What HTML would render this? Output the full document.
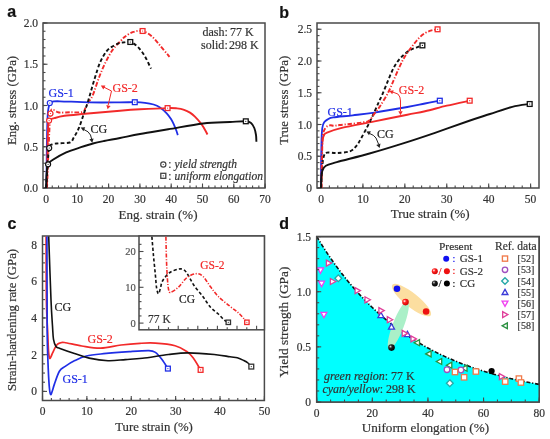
<!DOCTYPE html>
<html><head><meta charset="utf-8"><style>
html,body{margin:0;padding:0;background:#fff;}
svg{display:block;filter:blur(0.3px);}

</style></head><body>
<svg width="550" height="439" viewBox="0 0 550 439">
<rect x="43" y="23" width="222" height="165" fill="none" stroke="#4a4a4a" stroke-width="1.5"/>
<line x1="46.00" y1="188" x2="46.00" y2="185.5" stroke="#4a4a4a" stroke-width="1.1"/>
<line x1="52.26" y1="188" x2="52.26" y2="185.5" stroke="#4a4a4a" stroke-width="1.1"/>
<line x1="58.52" y1="188" x2="58.52" y2="185.5" stroke="#4a4a4a" stroke-width="1.1"/>
<line x1="64.78" y1="188" x2="64.78" y2="185.5" stroke="#4a4a4a" stroke-width="1.1"/>
<line x1="71.04" y1="188" x2="71.04" y2="185.5" stroke="#4a4a4a" stroke-width="1.1"/>
<line x1="77.30" y1="188" x2="77.30" y2="185.5" stroke="#4a4a4a" stroke-width="1.1"/>
<line x1="83.56" y1="188" x2="83.56" y2="185.5" stroke="#4a4a4a" stroke-width="1.1"/>
<line x1="89.82" y1="188" x2="89.82" y2="185.5" stroke="#4a4a4a" stroke-width="1.1"/>
<line x1="96.08" y1="188" x2="96.08" y2="185.5" stroke="#4a4a4a" stroke-width="1.1"/>
<line x1="102.34" y1="188" x2="102.34" y2="185.5" stroke="#4a4a4a" stroke-width="1.1"/>
<line x1="108.60" y1="188" x2="108.60" y2="185.5" stroke="#4a4a4a" stroke-width="1.1"/>
<line x1="114.86" y1="188" x2="114.86" y2="185.5" stroke="#4a4a4a" stroke-width="1.1"/>
<line x1="121.12" y1="188" x2="121.12" y2="185.5" stroke="#4a4a4a" stroke-width="1.1"/>
<line x1="127.38" y1="188" x2="127.38" y2="185.5" stroke="#4a4a4a" stroke-width="1.1"/>
<line x1="133.64" y1="188" x2="133.64" y2="185.5" stroke="#4a4a4a" stroke-width="1.1"/>
<line x1="139.90" y1="188" x2="139.90" y2="185.5" stroke="#4a4a4a" stroke-width="1.1"/>
<line x1="146.16" y1="188" x2="146.16" y2="185.5" stroke="#4a4a4a" stroke-width="1.1"/>
<line x1="152.42" y1="188" x2="152.42" y2="185.5" stroke="#4a4a4a" stroke-width="1.1"/>
<line x1="158.68" y1="188" x2="158.68" y2="185.5" stroke="#4a4a4a" stroke-width="1.1"/>
<line x1="164.94" y1="188" x2="164.94" y2="185.5" stroke="#4a4a4a" stroke-width="1.1"/>
<line x1="171.20" y1="188" x2="171.20" y2="185.5" stroke="#4a4a4a" stroke-width="1.1"/>
<line x1="177.46" y1="188" x2="177.46" y2="185.5" stroke="#4a4a4a" stroke-width="1.1"/>
<line x1="183.72" y1="188" x2="183.72" y2="185.5" stroke="#4a4a4a" stroke-width="1.1"/>
<line x1="189.98" y1="188" x2="189.98" y2="185.5" stroke="#4a4a4a" stroke-width="1.1"/>
<line x1="196.24" y1="188" x2="196.24" y2="185.5" stroke="#4a4a4a" stroke-width="1.1"/>
<line x1="202.50" y1="188" x2="202.50" y2="185.5" stroke="#4a4a4a" stroke-width="1.1"/>
<line x1="208.76" y1="188" x2="208.76" y2="185.5" stroke="#4a4a4a" stroke-width="1.1"/>
<line x1="215.02" y1="188" x2="215.02" y2="185.5" stroke="#4a4a4a" stroke-width="1.1"/>
<line x1="221.28" y1="188" x2="221.28" y2="185.5" stroke="#4a4a4a" stroke-width="1.1"/>
<line x1="227.54" y1="188" x2="227.54" y2="185.5" stroke="#4a4a4a" stroke-width="1.1"/>
<line x1="233.80" y1="188" x2="233.80" y2="185.5" stroke="#4a4a4a" stroke-width="1.1"/>
<line x1="240.06" y1="188" x2="240.06" y2="185.5" stroke="#4a4a4a" stroke-width="1.1"/>
<line x1="246.32" y1="188" x2="246.32" y2="185.5" stroke="#4a4a4a" stroke-width="1.1"/>
<line x1="252.58" y1="188" x2="252.58" y2="185.5" stroke="#4a4a4a" stroke-width="1.1"/>
<line x1="258.84" y1="188" x2="258.84" y2="185.5" stroke="#4a4a4a" stroke-width="1.1"/>
<line x1="265.10" y1="188" x2="265.10" y2="185.5" stroke="#4a4a4a" stroke-width="1.1"/>
<line x1="46.00" y1="188" x2="46.00" y2="183.5" stroke="#4a4a4a" stroke-width="1.1"/>
<line x1="77.30" y1="188" x2="77.30" y2="183.5" stroke="#4a4a4a" stroke-width="1.1"/>
<line x1="108.60" y1="188" x2="108.60" y2="183.5" stroke="#4a4a4a" stroke-width="1.1"/>
<line x1="139.90" y1="188" x2="139.90" y2="183.5" stroke="#4a4a4a" stroke-width="1.1"/>
<line x1="171.20" y1="188" x2="171.20" y2="183.5" stroke="#4a4a4a" stroke-width="1.1"/>
<line x1="202.50" y1="188" x2="202.50" y2="183.5" stroke="#4a4a4a" stroke-width="1.1"/>
<line x1="233.80" y1="188" x2="233.80" y2="183.5" stroke="#4a4a4a" stroke-width="1.1"/>
<line x1="265.10" y1="188" x2="265.10" y2="183.5" stroke="#4a4a4a" stroke-width="1.1"/>
<line x1="43" y1="188.00" x2="45.5" y2="188.00" stroke="#4a4a4a" stroke-width="1.1"/>
<line x1="43" y1="179.75" x2="45.5" y2="179.75" stroke="#4a4a4a" stroke-width="1.1"/>
<line x1="43" y1="171.50" x2="45.5" y2="171.50" stroke="#4a4a4a" stroke-width="1.1"/>
<line x1="43" y1="163.25" x2="45.5" y2="163.25" stroke="#4a4a4a" stroke-width="1.1"/>
<line x1="43" y1="155.00" x2="45.5" y2="155.00" stroke="#4a4a4a" stroke-width="1.1"/>
<line x1="43" y1="146.75" x2="45.5" y2="146.75" stroke="#4a4a4a" stroke-width="1.1"/>
<line x1="43" y1="138.50" x2="45.5" y2="138.50" stroke="#4a4a4a" stroke-width="1.1"/>
<line x1="43" y1="130.25" x2="45.5" y2="130.25" stroke="#4a4a4a" stroke-width="1.1"/>
<line x1="43" y1="122.00" x2="45.5" y2="122.00" stroke="#4a4a4a" stroke-width="1.1"/>
<line x1="43" y1="113.75" x2="45.5" y2="113.75" stroke="#4a4a4a" stroke-width="1.1"/>
<line x1="43" y1="105.50" x2="45.5" y2="105.50" stroke="#4a4a4a" stroke-width="1.1"/>
<line x1="43" y1="97.25" x2="45.5" y2="97.25" stroke="#4a4a4a" stroke-width="1.1"/>
<line x1="43" y1="89.00" x2="45.5" y2="89.00" stroke="#4a4a4a" stroke-width="1.1"/>
<line x1="43" y1="80.75" x2="45.5" y2="80.75" stroke="#4a4a4a" stroke-width="1.1"/>
<line x1="43" y1="72.50" x2="45.5" y2="72.50" stroke="#4a4a4a" stroke-width="1.1"/>
<line x1="43" y1="64.25" x2="45.5" y2="64.25" stroke="#4a4a4a" stroke-width="1.1"/>
<line x1="43" y1="56.00" x2="45.5" y2="56.00" stroke="#4a4a4a" stroke-width="1.1"/>
<line x1="43" y1="47.75" x2="45.5" y2="47.75" stroke="#4a4a4a" stroke-width="1.1"/>
<line x1="43" y1="39.50" x2="45.5" y2="39.50" stroke="#4a4a4a" stroke-width="1.1"/>
<line x1="43" y1="31.25" x2="45.5" y2="31.25" stroke="#4a4a4a" stroke-width="1.1"/>
<line x1="43" y1="23.00" x2="45.5" y2="23.00" stroke="#4a4a4a" stroke-width="1.1"/>
<line x1="43" y1="188.00" x2="47.5" y2="188.00" stroke="#4a4a4a" stroke-width="1.1"/>
<line x1="43" y1="146.75" x2="47.5" y2="146.75" stroke="#4a4a4a" stroke-width="1.1"/>
<line x1="43" y1="105.50" x2="47.5" y2="105.50" stroke="#4a4a4a" stroke-width="1.1"/>
<line x1="43" y1="64.25" x2="47.5" y2="64.25" stroke="#4a4a4a" stroke-width="1.1"/>
<line x1="43" y1="23.00" x2="47.5" y2="23.00" stroke="#4a4a4a" stroke-width="1.1"/>
<text x="46.00" y="203.00" font-size="11.5" text-anchor="middle" fill="#333" stroke="#333" stroke-width="0.2" font-family='"Liberation Serif", serif' >0</text>
<text x="77.30" y="203.00" font-size="11.5" text-anchor="middle" fill="#333" stroke="#333" stroke-width="0.2" font-family='"Liberation Serif", serif' >10</text>
<text x="108.60" y="203.00" font-size="11.5" text-anchor="middle" fill="#333" stroke="#333" stroke-width="0.2" font-family='"Liberation Serif", serif' >20</text>
<text x="139.90" y="203.00" font-size="11.5" text-anchor="middle" fill="#333" stroke="#333" stroke-width="0.2" font-family='"Liberation Serif", serif' >30</text>
<text x="171.20" y="203.00" font-size="11.5" text-anchor="middle" fill="#333" stroke="#333" stroke-width="0.2" font-family='"Liberation Serif", serif' >40</text>
<text x="202.50" y="203.00" font-size="11.5" text-anchor="middle" fill="#333" stroke="#333" stroke-width="0.2" font-family='"Liberation Serif", serif' >50</text>
<text x="233.80" y="203.00" font-size="11.5" text-anchor="middle" fill="#333" stroke="#333" stroke-width="0.2" font-family='"Liberation Serif", serif' >60</text>
<text x="265.10" y="203.00" font-size="11.5" text-anchor="middle" fill="#333" stroke="#333" stroke-width="0.2" font-family='"Liberation Serif", serif' >70</text>
<text x="38.00" y="192.00" font-size="11.5" text-anchor="end" fill="#333" stroke="#333" stroke-width="0.2" font-family='"Liberation Serif", serif' >0.0</text>
<text x="38.00" y="150.75" font-size="11.5" text-anchor="end" fill="#333" stroke="#333" stroke-width="0.2" font-family='"Liberation Serif", serif' >0.5</text>
<text x="38.00" y="109.50" font-size="11.5" text-anchor="end" fill="#333" stroke="#333" stroke-width="0.2" font-family='"Liberation Serif", serif' >1.0</text>
<text x="38.00" y="68.25" font-size="11.5" text-anchor="end" fill="#333" stroke="#333" stroke-width="0.2" font-family='"Liberation Serif", serif' >1.5</text>
<text x="38.00" y="27.00" font-size="11.5" text-anchor="end" fill="#333" stroke="#333" stroke-width="0.2" font-family='"Liberation Serif", serif' >2.0</text>
<text x="158.00" y="218.60" font-size="13" text-anchor="middle" fill="#333" stroke="#333" stroke-width="0.2" font-family='"Liberation Serif", serif' >Eng. strain (%)</text>
<text transform="translate(16,100.5) rotate(-90)" font-size="12.8" text-anchor="middle" fill="#333" stroke="#333" stroke-width="0.2" font-family='"Liberation Serif", serif'>Eng. stress (GPa)</text>
<text x="7.20" y="16.60" font-size="16" text-anchor="start" fill="#111" stroke="#111" stroke-width="0.2" font-family='"Liberation Sans", sans-serif' font-weight="bold">a</text>
<path d="M47.00,188.00 C47.25,181.67 47.92,162.42 48.50,150.00 C49.08,137.58 49.67,120.13 50.50,113.50 C51.33,106.87 52.42,110.48 53.50,110.20 C54.58,109.92 55.83,111.40 57.00,111.80 C58.17,112.20 58.33,112.52 60.50,112.60 C62.67,112.68 66.32,112.40 70.00,112.30 C73.68,112.20 80.05,112.67 82.60,112.00 C85.15,111.33 84.30,109.97 85.30,108.30 C86.30,106.63 87.35,104.18 88.60,102.00 C89.85,99.82 91.03,99.37 92.80,95.20 C94.57,91.03 97.08,82.47 99.20,77.00 C101.32,71.53 103.23,66.97 105.50,62.40 C107.77,57.83 110.20,53.25 112.80,49.60 C115.40,45.95 118.97,42.73 121.10,40.50 C123.23,38.27 123.55,37.63 125.60,36.20 C127.65,34.77 130.57,32.77 133.40,31.90 C136.23,31.03 139.52,30.25 142.60,31.00 C145.68,31.75 148.98,33.97 151.90,36.40 C154.82,38.83 157.17,42.20 160.10,45.60 C163.03,49.00 167.93,54.93 169.50,56.80" fill="none" stroke="#f22a2a" stroke-width="1.9" stroke-linejoin="round" stroke-dasharray="4.5 1.8 1.2 1.8"/>
<path d="M46.50,188.00 C46.55,181.67 46.60,162.17 46.80,150.00 C47.00,137.83 47.20,122.75 47.70,115.00 C48.20,107.25 48.92,105.73 49.80,103.50 C50.68,101.27 51.30,101.97 53.00,101.60 C54.70,101.23 53.83,101.17 60.00,101.30 C66.17,101.43 80.00,102.22 90.00,102.40 C100.00,102.58 112.50,102.43 120.00,102.40 C127.50,102.37 130.83,102.13 135.00,102.20 C139.17,102.27 141.90,102.42 145.00,102.80 C148.10,103.18 151.10,103.72 153.60,104.50 C156.10,105.28 157.82,106.03 160.00,107.50 C162.18,108.97 164.87,111.38 166.70,113.30 C168.53,115.22 169.78,117.07 171.00,119.00 C172.22,120.93 173.08,122.90 174.00,124.90 C174.92,126.90 175.87,129.30 176.50,131.00 C177.13,132.70 177.58,134.42 177.80,135.10" fill="none" stroke="#1f2ee6" stroke-width="1.8" stroke-linejoin="round"/>
<path d="M46.90,188.00 C46.98,183.33 47.22,169.67 47.40,160.00 C47.58,150.33 47.72,136.57 48.00,130.00 C48.28,123.43 48.05,122.57 49.10,120.60 C50.15,118.63 51.73,119.00 54.30,118.20 C56.87,117.40 59.38,116.53 64.50,115.80 C69.62,115.07 75.75,114.65 85.00,113.80 C94.25,112.95 110.83,111.45 120.00,110.70 C129.17,109.95 132.07,109.73 140.00,109.30 C147.93,108.87 161.43,108.25 167.60,108.10 C173.77,107.95 174.25,108.12 177.00,108.40 C179.75,108.68 181.93,109.10 184.10,109.80 C186.27,110.50 188.20,111.47 190.00,112.60 C191.80,113.73 193.05,114.77 194.90,116.60 C196.75,118.43 199.50,121.53 201.10,123.60 C202.70,125.67 203.43,127.18 204.50,129.00 C205.57,130.82 207.00,133.58 207.50,134.50" fill="none" stroke="#f22a2a" stroke-width="1.9" stroke-linejoin="round"/>
<path d="M46.30,188.00 C46.50,184.17 47.02,171.67 47.50,165.00 C47.98,158.33 48.43,151.45 49.20,148.00 C49.97,144.55 50.50,145.08 52.10,144.30 C53.70,143.52 55.83,143.60 58.80,143.30 C61.77,143.00 67.40,143.45 69.90,142.50 C72.40,141.55 72.32,139.98 73.80,137.60 C75.28,135.22 77.13,132.17 78.80,128.20 C80.47,124.23 82.23,118.38 83.80,113.80 C85.37,109.22 86.40,106.53 88.20,100.70 C90.00,94.87 92.62,85.18 94.60,78.80 C96.58,72.42 98.12,66.97 100.10,62.40 C102.08,57.83 104.38,54.08 106.50,51.40 C108.62,48.72 110.68,47.67 112.80,46.30 C114.92,44.93 117.33,43.85 119.20,43.20 C121.07,42.55 122.15,42.60 124.00,42.40 C125.85,42.20 128.05,41.30 130.30,42.00 C132.55,42.70 135.10,44.28 137.50,46.60 C139.90,48.92 142.45,52.22 144.70,55.90 C146.95,59.58 149.95,66.57 151.00,68.70" fill="none" stroke="#111" stroke-width="1.9" stroke-linejoin="round" stroke-dasharray="3.6 2.4"/>
<path d="M46.20,188.00 C46.25,185.83 46.18,178.95 46.50,175.00 C46.82,171.05 47.03,166.83 48.10,164.30 C49.17,161.77 49.88,161.78 52.90,159.80 C55.92,157.82 61.52,154.50 66.20,152.40 C70.88,150.30 76.55,148.68 81.00,147.20 C85.45,145.72 89.07,144.53 92.90,143.50 C96.73,142.47 99.48,141.92 104.00,141.00 C108.52,140.08 114.00,139.17 120.00,138.00 C126.00,136.83 131.97,135.45 140.00,134.00 C148.03,132.55 157.68,131.05 168.20,129.30 C178.72,127.55 192.80,124.72 203.10,123.50 C213.40,122.28 222.88,122.37 230.00,122.00 C237.12,121.63 242.30,121.13 245.80,121.30 C249.30,121.47 249.58,121.88 251.00,123.00 C252.42,124.12 253.47,126.00 254.30,128.00 C255.13,130.00 255.65,132.70 256.00,135.00 C256.35,137.30 256.33,140.67 256.40,141.80" fill="none" stroke="#111" stroke-width="1.9" stroke-linejoin="round"/>
<circle cx="48.10" cy="164.30" r="2.5" fill="#fff" stroke="#111" stroke-width="1.2"/>
<circle cx="48.10" cy="164.30" r="0.6" fill="#111"/>
<circle cx="49.20" cy="148.00" r="2.5" fill="#fff" stroke="#111" stroke-width="1.2"/>
<circle cx="49.20" cy="148.00" r="0.6" fill="#111"/>
<circle cx="49.80" cy="103.00" r="2.5" fill="#fff" stroke="#1f2ee6" stroke-width="1.2"/>
<circle cx="49.80" cy="103.00" r="0.6" fill="#1f2ee6"/>
<circle cx="50.50" cy="113.50" r="2.5" fill="#fff" stroke="#f22a2a" stroke-width="1.2"/>
<circle cx="50.50" cy="113.50" r="0.6" fill="#f22a2a"/>
<circle cx="49.10" cy="120.60" r="2.5" fill="#fff" stroke="#f22a2a" stroke-width="1.2"/>
<circle cx="49.10" cy="120.60" r="0.6" fill="#f22a2a"/>
<rect x="243.40" y="118.90" width="4.8" height="4.8" fill="#fff" stroke="#111" stroke-width="1.3"/>
<circle cx="245.80" cy="121.30" r="0.6" fill="#111"/>
<rect x="127.90" y="39.60" width="4.8" height="4.8" fill="#fff" stroke="#111" stroke-width="1.3"/>
<circle cx="130.30" cy="42.00" r="0.6" fill="#111"/>
<rect x="132.40" y="99.80" width="4.8" height="4.8" fill="#fff" stroke="#1f2ee6" stroke-width="1.3"/>
<circle cx="134.80" cy="102.20" r="0.6" fill="#1f2ee6"/>
<rect x="165.20" y="105.70" width="4.8" height="4.8" fill="#fff" stroke="#f22a2a" stroke-width="1.3"/>
<circle cx="167.60" cy="108.10" r="0.6" fill="#f22a2a"/>
<rect x="140.20" y="28.60" width="4.8" height="4.8" fill="#fff" stroke="#f22a2a" stroke-width="1.3"/>
<circle cx="142.60" cy="31.00" r="0.6" fill="#f22a2a"/>
<text x="48.50" y="96.80" font-size="12" text-anchor="start" fill="#1f2ee6" stroke="#1f2ee6" stroke-width="0.2" font-family='"Liberation Serif", serif' >GS-1</text>
<text x="112.50" y="91.50" font-size="12" text-anchor="start" fill="#f22a2a" stroke="#f22a2a" stroke-width="0.2" font-family='"Liberation Serif", serif' >GS-2</text>
<text x="90.50" y="132.60" font-size="12" text-anchor="start" fill="#222" stroke="#222" stroke-width="0.2" font-family='"Liberation Serif", serif' >CG</text>
<path d="M111.5,91 L104,87.2" stroke="#f22a2a" stroke-width="1" fill="none"/>
<path d="M100.80,85.60 L105.36,85.46 L103.37,89.38 Z" fill="#f22a2a"/>
<path d="M111.5,91 L108.2,105" stroke="#f22a2a" stroke-width="1" fill="none"/>
<path d="M107.60,109.30 L106.36,104.91 L110.64,105.90 Z" fill="#f22a2a"/>
<path d="M83.5,129.3 Q89,131.5 90.5,135 L91.6,139" stroke="#222" stroke-width="1" fill="none"/>
<path d="M80.70,127.60 L85.25,127.30 L83.40,131.28 Z" fill="#222"/>
<path d="M92.30,142.80 L89.32,139.34 L93.62,138.43 Z" fill="#222"/>
<text x="202.50" y="35.60" font-size="12" text-anchor="start" fill="#333" stroke="#333" stroke-width="0.2" font-family='"Liberation Serif", serif' >dash</text>
<text x="224.50" y="35.60" font-size="12" text-anchor="start" fill="#333" stroke="#333" stroke-width="0.2" font-family='"Liberation Serif", serif' >:</text>
<text x="230.00" y="35.60" font-size="12" text-anchor="start" fill="#333" stroke="#333" stroke-width="0.2" font-family='"Liberation Serif", serif' >77 K</text>
<text x="201.00" y="48.80" font-size="12" text-anchor="start" fill="#333" stroke="#333" stroke-width="0.2" font-family='"Liberation Serif", serif' >solid</text>
<text x="224.50" y="48.80" font-size="12" text-anchor="start" fill="#333" stroke="#333" stroke-width="0.2" font-family='"Liberation Serif", serif' >:</text>
<text x="229.00" y="48.80" font-size="12" text-anchor="start" fill="#333" stroke="#333" stroke-width="0.2" font-family='"Liberation Serif", serif' >298 K</text>
<circle cx="163.30" cy="164.50" r="2.6" fill="#fff" stroke="#444" stroke-width="1.2"/>
<circle cx="163.30" cy="164.50" r="0.6" fill="#444"/>
<text x="168.30" y="168.30" font-size="11.5" text-anchor="start" fill="#333" stroke="#333" stroke-width="0.2" font-family='"Liberation Serif", serif' >:</text>
<text x="174.50" y="168.20" font-size="11.5" text-anchor="start" fill="#333" stroke="#333" stroke-width="0.2" font-family='"Liberation Serif", serif' font-style="italic">yield strength</text>
<rect x="160.80" y="173.30" width="5.0" height="5.0" fill="#fff" stroke="#444" stroke-width="1.3"/>
<circle cx="163.30" cy="175.80" r="0.6" fill="#444"/>
<text x="168.30" y="179.80" font-size="11.5" text-anchor="start" fill="#333" stroke="#333" stroke-width="0.2" font-family='"Liberation Serif", serif' >:</text>
<text x="174.50" y="179.70" font-size="11.5" text-anchor="start" fill="#333" stroke="#333" stroke-width="0.2" font-family='"Liberation Serif", serif' font-style="italic">uniform elongation</text>
<rect x="317" y="23" width="222" height="165" fill="none" stroke="#4a4a4a" stroke-width="1.5"/>
<line x1="321.00" y1="188" x2="321.00" y2="185.5" stroke="#4a4a4a" stroke-width="1.1"/>
<line x1="329.38" y1="188" x2="329.38" y2="185.5" stroke="#4a4a4a" stroke-width="1.1"/>
<line x1="337.77" y1="188" x2="337.77" y2="185.5" stroke="#4a4a4a" stroke-width="1.1"/>
<line x1="346.15" y1="188" x2="346.15" y2="185.5" stroke="#4a4a4a" stroke-width="1.1"/>
<line x1="354.54" y1="188" x2="354.54" y2="185.5" stroke="#4a4a4a" stroke-width="1.1"/>
<line x1="362.92" y1="188" x2="362.92" y2="185.5" stroke="#4a4a4a" stroke-width="1.1"/>
<line x1="371.30" y1="188" x2="371.30" y2="185.5" stroke="#4a4a4a" stroke-width="1.1"/>
<line x1="379.69" y1="188" x2="379.69" y2="185.5" stroke="#4a4a4a" stroke-width="1.1"/>
<line x1="388.07" y1="188" x2="388.07" y2="185.5" stroke="#4a4a4a" stroke-width="1.1"/>
<line x1="396.46" y1="188" x2="396.46" y2="185.5" stroke="#4a4a4a" stroke-width="1.1"/>
<line x1="404.84" y1="188" x2="404.84" y2="185.5" stroke="#4a4a4a" stroke-width="1.1"/>
<line x1="413.22" y1="188" x2="413.22" y2="185.5" stroke="#4a4a4a" stroke-width="1.1"/>
<line x1="421.61" y1="188" x2="421.61" y2="185.5" stroke="#4a4a4a" stroke-width="1.1"/>
<line x1="429.99" y1="188" x2="429.99" y2="185.5" stroke="#4a4a4a" stroke-width="1.1"/>
<line x1="438.38" y1="188" x2="438.38" y2="185.5" stroke="#4a4a4a" stroke-width="1.1"/>
<line x1="446.76" y1="188" x2="446.76" y2="185.5" stroke="#4a4a4a" stroke-width="1.1"/>
<line x1="455.14" y1="188" x2="455.14" y2="185.5" stroke="#4a4a4a" stroke-width="1.1"/>
<line x1="463.53" y1="188" x2="463.53" y2="185.5" stroke="#4a4a4a" stroke-width="1.1"/>
<line x1="471.91" y1="188" x2="471.91" y2="185.5" stroke="#4a4a4a" stroke-width="1.1"/>
<line x1="480.30" y1="188" x2="480.30" y2="185.5" stroke="#4a4a4a" stroke-width="1.1"/>
<line x1="488.68" y1="188" x2="488.68" y2="185.5" stroke="#4a4a4a" stroke-width="1.1"/>
<line x1="497.06" y1="188" x2="497.06" y2="185.5" stroke="#4a4a4a" stroke-width="1.1"/>
<line x1="505.45" y1="188" x2="505.45" y2="185.5" stroke="#4a4a4a" stroke-width="1.1"/>
<line x1="513.83" y1="188" x2="513.83" y2="185.5" stroke="#4a4a4a" stroke-width="1.1"/>
<line x1="522.22" y1="188" x2="522.22" y2="185.5" stroke="#4a4a4a" stroke-width="1.1"/>
<line x1="530.60" y1="188" x2="530.60" y2="185.5" stroke="#4a4a4a" stroke-width="1.1"/>
<line x1="321.00" y1="188" x2="321.00" y2="183.5" stroke="#4a4a4a" stroke-width="1.1"/>
<line x1="362.92" y1="188" x2="362.92" y2="183.5" stroke="#4a4a4a" stroke-width="1.1"/>
<line x1="404.84" y1="188" x2="404.84" y2="183.5" stroke="#4a4a4a" stroke-width="1.1"/>
<line x1="446.76" y1="188" x2="446.76" y2="183.5" stroke="#4a4a4a" stroke-width="1.1"/>
<line x1="488.68" y1="188" x2="488.68" y2="183.5" stroke="#4a4a4a" stroke-width="1.1"/>
<line x1="530.60" y1="188" x2="530.60" y2="183.5" stroke="#4a4a4a" stroke-width="1.1"/>
<line x1="317" y1="188.00" x2="319.5" y2="188.00" stroke="#4a4a4a" stroke-width="1.1"/>
<line x1="317" y1="181.65" x2="319.5" y2="181.65" stroke="#4a4a4a" stroke-width="1.1"/>
<line x1="317" y1="175.30" x2="319.5" y2="175.30" stroke="#4a4a4a" stroke-width="1.1"/>
<line x1="317" y1="168.95" x2="319.5" y2="168.95" stroke="#4a4a4a" stroke-width="1.1"/>
<line x1="317" y1="162.60" x2="319.5" y2="162.60" stroke="#4a4a4a" stroke-width="1.1"/>
<line x1="317" y1="156.25" x2="319.5" y2="156.25" stroke="#4a4a4a" stroke-width="1.1"/>
<line x1="317" y1="149.90" x2="319.5" y2="149.90" stroke="#4a4a4a" stroke-width="1.1"/>
<line x1="317" y1="143.55" x2="319.5" y2="143.55" stroke="#4a4a4a" stroke-width="1.1"/>
<line x1="317" y1="137.20" x2="319.5" y2="137.20" stroke="#4a4a4a" stroke-width="1.1"/>
<line x1="317" y1="130.85" x2="319.5" y2="130.85" stroke="#4a4a4a" stroke-width="1.1"/>
<line x1="317" y1="124.50" x2="319.5" y2="124.50" stroke="#4a4a4a" stroke-width="1.1"/>
<line x1="317" y1="118.15" x2="319.5" y2="118.15" stroke="#4a4a4a" stroke-width="1.1"/>
<line x1="317" y1="111.80" x2="319.5" y2="111.80" stroke="#4a4a4a" stroke-width="1.1"/>
<line x1="317" y1="105.45" x2="319.5" y2="105.45" stroke="#4a4a4a" stroke-width="1.1"/>
<line x1="317" y1="99.10" x2="319.5" y2="99.10" stroke="#4a4a4a" stroke-width="1.1"/>
<line x1="317" y1="92.75" x2="319.5" y2="92.75" stroke="#4a4a4a" stroke-width="1.1"/>
<line x1="317" y1="86.40" x2="319.5" y2="86.40" stroke="#4a4a4a" stroke-width="1.1"/>
<line x1="317" y1="80.05" x2="319.5" y2="80.05" stroke="#4a4a4a" stroke-width="1.1"/>
<line x1="317" y1="73.70" x2="319.5" y2="73.70" stroke="#4a4a4a" stroke-width="1.1"/>
<line x1="317" y1="67.35" x2="319.5" y2="67.35" stroke="#4a4a4a" stroke-width="1.1"/>
<line x1="317" y1="61.00" x2="319.5" y2="61.00" stroke="#4a4a4a" stroke-width="1.1"/>
<line x1="317" y1="54.65" x2="319.5" y2="54.65" stroke="#4a4a4a" stroke-width="1.1"/>
<line x1="317" y1="48.30" x2="319.5" y2="48.30" stroke="#4a4a4a" stroke-width="1.1"/>
<line x1="317" y1="41.95" x2="319.5" y2="41.95" stroke="#4a4a4a" stroke-width="1.1"/>
<line x1="317" y1="35.60" x2="319.5" y2="35.60" stroke="#4a4a4a" stroke-width="1.1"/>
<line x1="317" y1="29.25" x2="319.5" y2="29.25" stroke="#4a4a4a" stroke-width="1.1"/>
<line x1="317" y1="188.00" x2="321.5" y2="188.00" stroke="#4a4a4a" stroke-width="1.1"/>
<line x1="317" y1="156.25" x2="321.5" y2="156.25" stroke="#4a4a4a" stroke-width="1.1"/>
<line x1="317" y1="124.50" x2="321.5" y2="124.50" stroke="#4a4a4a" stroke-width="1.1"/>
<line x1="317" y1="92.75" x2="321.5" y2="92.75" stroke="#4a4a4a" stroke-width="1.1"/>
<line x1="317" y1="61.00" x2="321.5" y2="61.00" stroke="#4a4a4a" stroke-width="1.1"/>
<line x1="317" y1="29.25" x2="321.5" y2="29.25" stroke="#4a4a4a" stroke-width="1.1"/>
<text x="321.00" y="203.00" font-size="11.5" text-anchor="middle" fill="#333" stroke="#333" stroke-width="0.2" font-family='"Liberation Serif", serif' >0</text>
<text x="362.92" y="203.00" font-size="11.5" text-anchor="middle" fill="#333" stroke="#333" stroke-width="0.2" font-family='"Liberation Serif", serif' >10</text>
<text x="404.84" y="203.00" font-size="11.5" text-anchor="middle" fill="#333" stroke="#333" stroke-width="0.2" font-family='"Liberation Serif", serif' >20</text>
<text x="446.76" y="203.00" font-size="11.5" text-anchor="middle" fill="#333" stroke="#333" stroke-width="0.2" font-family='"Liberation Serif", serif' >30</text>
<text x="488.68" y="203.00" font-size="11.5" text-anchor="middle" fill="#333" stroke="#333" stroke-width="0.2" font-family='"Liberation Serif", serif' >40</text>
<text x="530.60" y="203.00" font-size="11.5" text-anchor="middle" fill="#333" stroke="#333" stroke-width="0.2" font-family='"Liberation Serif", serif' >50</text>
<text x="312.00" y="192.00" font-size="11.5" text-anchor="end" fill="#333" stroke="#333" stroke-width="0.2" font-family='"Liberation Serif", serif' >0</text>
<text x="312.00" y="160.25" font-size="11.5" text-anchor="end" fill="#333" stroke="#333" stroke-width="0.2" font-family='"Liberation Serif", serif' >0.5</text>
<text x="312.00" y="128.50" font-size="11.5" text-anchor="end" fill="#333" stroke="#333" stroke-width="0.2" font-family='"Liberation Serif", serif' >1.0</text>
<text x="312.00" y="96.75" font-size="11.5" text-anchor="end" fill="#333" stroke="#333" stroke-width="0.2" font-family='"Liberation Serif", serif' >1.5</text>
<text x="312.00" y="65.00" font-size="11.5" text-anchor="end" fill="#333" stroke="#333" stroke-width="0.2" font-family='"Liberation Serif", serif' >2.0</text>
<text x="312.00" y="33.25" font-size="11.5" text-anchor="end" fill="#333" stroke="#333" stroke-width="0.2" font-family='"Liberation Serif", serif' >2.5</text>
<text x="430.20" y="218.20" font-size="13" text-anchor="middle" fill="#333" stroke="#333" stroke-width="0.2" font-family='"Liberation Serif", serif' >True strain (%)</text>
<text transform="translate(287.5,100.3) rotate(-90)" font-size="12.8" text-anchor="middle" fill="#333" stroke="#333" stroke-width="0.2" font-family='"Liberation Serif", serif'>True stress (GPa)</text>
<text x="279.20" y="17.60" font-size="16" text-anchor="start" fill="#111" stroke="#111" stroke-width="0.2" font-family='"Liberation Sans", sans-serif' font-weight="bold">b</text>
<path d="M321.20,188.00 C321.25,183.33 321.28,167.83 321.50,160.00 C321.72,152.17 322.08,145.13 322.50,141.00 C322.92,136.87 323.25,136.60 324.00,135.20 C324.75,133.80 324.03,133.82 327.00,132.60 C329.97,131.38 333.88,129.77 341.80,127.90 C349.72,126.03 363.58,123.60 374.50,121.40 C385.42,119.20 398.88,116.40 407.30,114.70 C415.72,113.00 418.42,112.70 425.00,111.20 C431.58,109.70 439.35,107.45 446.80,105.70 C454.25,103.95 465.88,101.53 469.70,100.70" fill="none" stroke="#f22a2a" stroke-width="1.9" stroke-linejoin="round"/>
<path d="M321.00,188.00 C321.07,180.83 321.18,155.00 321.40,145.00 C321.62,135.00 321.80,131.83 322.30,128.00 C322.80,124.17 323.45,123.47 324.40,122.00 C325.35,120.53 326.55,119.97 328.00,119.20 C329.45,118.43 328.98,118.05 333.10,117.40 C337.22,116.75 345.80,116.10 352.70,115.30 C359.60,114.50 365.40,113.98 374.50,112.60 C383.60,111.22 398.88,108.52 407.30,107.00 C415.72,105.48 419.58,104.55 425.00,103.50 C430.42,102.45 437.33,101.17 439.80,100.70" fill="none" stroke="#1f2ee6" stroke-width="1.8" stroke-linejoin="round"/>
<path d="M321.30,188.00 C321.42,185.00 321.60,175.22 322.00,170.00 C322.40,164.78 322.87,159.60 323.70,156.70 C324.53,153.80 324.82,153.22 327.00,152.60 C329.18,151.98 332.98,153.22 336.80,153.00 C340.62,152.78 346.62,152.50 349.90,151.30 C353.18,150.10 354.65,147.93 356.50,145.80 C358.35,143.67 359.27,141.55 361.00,138.50 C362.73,135.45 365.02,131.15 366.90,127.50 C368.78,123.85 370.32,120.85 372.30,116.60 C374.28,112.35 377.07,105.82 378.80,102.00 C380.53,98.18 381.13,97.35 382.70,93.70 C384.27,90.05 386.37,84.42 388.20,80.10 C390.03,75.78 391.88,71.22 393.70,67.80 C395.52,64.38 397.28,61.88 399.10,59.60 C400.92,57.32 402.55,55.82 404.60,54.10 C406.65,52.38 409.35,50.43 411.40,49.30 C413.45,48.17 415.10,47.97 416.90,47.30 C418.70,46.63 421.32,45.63 422.20,45.30" fill="none" stroke="#111" stroke-width="1.9" stroke-linejoin="round" stroke-dasharray="3.6 2.4"/>
<path d="M321.50,188.00 C321.58,183.33 321.78,168.67 322.00,160.00 C322.22,151.33 322.22,141.33 322.80,136.00 C323.38,130.67 324.33,129.78 325.50,128.00 C326.67,126.22 328.38,125.67 329.80,125.30 C331.22,124.93 332.37,125.85 334.00,125.80 C335.63,125.75 336.93,125.30 339.60,125.00 C342.27,124.70 346.00,124.45 350.00,124.00 C354.00,123.55 360.33,122.93 363.60,122.30 C366.87,121.67 367.70,121.77 369.60,120.20 C371.50,118.63 373.18,115.35 375.00,112.90 C376.82,110.45 378.30,108.90 380.50,105.50 C382.70,102.10 386.00,96.73 388.20,92.50 C390.40,88.27 391.88,84.22 393.70,80.10 C395.52,75.98 397.28,71.67 399.10,67.80 C400.92,63.93 402.55,60.32 404.60,56.90 C406.65,53.48 409.08,50.37 411.40,47.30 C413.72,44.23 416.22,40.87 418.50,38.50 C420.78,36.13 422.92,34.45 425.10,33.10 C427.28,31.75 429.52,31.03 431.60,30.40 C433.68,29.77 436.60,29.48 437.60,29.30" fill="none" stroke="#f22a2a" stroke-width="1.9" stroke-linejoin="round" stroke-dasharray="4.5 1.8 1.2 1.8"/>
<path d="M321.00,188.00 C321.05,186.33 321.08,180.83 321.30,178.00 C321.52,175.17 321.53,173.03 322.30,171.00 C323.07,168.97 323.48,167.27 325.90,165.80 C328.32,164.33 329.53,164.25 336.80,162.20 C344.07,160.15 358.58,156.60 369.50,153.50 C380.42,150.40 391.38,147.05 402.30,143.60 C413.22,140.15 423.95,136.57 435.00,132.80 C446.05,129.03 459.43,124.13 468.60,121.00 C477.77,117.87 482.72,116.37 490.00,114.00 C497.28,111.63 505.68,108.47 512.30,106.80 C518.92,105.13 526.80,104.47 529.70,104.00" fill="none" stroke="#111" stroke-width="1.9" stroke-linejoin="round"/>
<rect x="437.40" y="98.30" width="4.8" height="4.8" fill="#fff" stroke="#1f2ee6" stroke-width="1.3"/>
<circle cx="439.80" cy="100.70" r="0.6" fill="#1f2ee6"/>
<rect x="467.30" y="98.30" width="4.8" height="4.8" fill="#fff" stroke="#f22a2a" stroke-width="1.3"/>
<circle cx="469.70" cy="100.70" r="0.6" fill="#f22a2a"/>
<rect x="527.30" y="101.60" width="4.8" height="4.8" fill="#fff" stroke="#111" stroke-width="1.3"/>
<circle cx="529.70" cy="104.00" r="0.6" fill="#111"/>
<rect x="420.00" y="43.00" width="4.8" height="4.8" fill="#fff" stroke="#111" stroke-width="1.3"/>
<circle cx="422.40" cy="45.40" r="0.6" fill="#111"/>
<rect x="435.20" y="26.90" width="4.8" height="4.8" fill="#fff" stroke="#f22a2a" stroke-width="1.3"/>
<circle cx="437.60" cy="29.30" r="0.6" fill="#f22a2a"/>
<text x="327.50" y="116.20" font-size="12" text-anchor="start" fill="#1f2ee6" stroke="#1f2ee6" stroke-width="0.2" font-family='"Liberation Serif", serif' >GS-1</text>
<text x="398.80" y="94.20" font-size="12" text-anchor="start" fill="#f22a2a" stroke="#f22a2a" stroke-width="0.2" font-family='"Liberation Serif", serif' >GS-2</text>
<text x="377.00" y="138.20" font-size="12" text-anchor="start" fill="#222" stroke="#222" stroke-width="0.2" font-family='"Liberation Serif", serif' >CG</text>
<path d="M397.9,94 L392.5,92" stroke="#f22a2a" stroke-width="1" fill="none"/>
<path d="M389.20,90.90 L393.71,90.20 L392.21,94.34 Z" fill="#f22a2a"/>
<path d="M397.9,94 Q400.5,96.5 400.5,101 L400.5,111" stroke="#f22a2a" stroke-width="1" fill="none"/>
<path d="M400.50,115.20 L398.30,111.20 L402.70,111.20 Z" fill="#f22a2a"/>
<path d="M369.2,133.3 Q374,135 376,138 L378.5,144" stroke="#222" stroke-width="1" fill="none"/>
<path d="M366.30,131.60 L370.85,131.30 L369.00,135.28 Z" fill="#222"/>
<path d="M379.60,148.00 L376.27,144.88 L380.46,143.52 Z" fill="#222"/>
<rect x="42.5" y="236" width="221.89999999999998" height="164.5" fill="none" stroke="#4a4a4a" stroke-width="1.5"/>
<line x1="42.50" y1="400.5" x2="42.50" y2="398.0" stroke="#4a4a4a" stroke-width="1.1"/>
<line x1="51.38" y1="400.5" x2="51.38" y2="398.0" stroke="#4a4a4a" stroke-width="1.1"/>
<line x1="60.25" y1="400.5" x2="60.25" y2="398.0" stroke="#4a4a4a" stroke-width="1.1"/>
<line x1="69.13" y1="400.5" x2="69.13" y2="398.0" stroke="#4a4a4a" stroke-width="1.1"/>
<line x1="78.00" y1="400.5" x2="78.00" y2="398.0" stroke="#4a4a4a" stroke-width="1.1"/>
<line x1="86.88" y1="400.5" x2="86.88" y2="398.0" stroke="#4a4a4a" stroke-width="1.1"/>
<line x1="95.76" y1="400.5" x2="95.76" y2="398.0" stroke="#4a4a4a" stroke-width="1.1"/>
<line x1="104.63" y1="400.5" x2="104.63" y2="398.0" stroke="#4a4a4a" stroke-width="1.1"/>
<line x1="113.51" y1="400.5" x2="113.51" y2="398.0" stroke="#4a4a4a" stroke-width="1.1"/>
<line x1="122.38" y1="400.5" x2="122.38" y2="398.0" stroke="#4a4a4a" stroke-width="1.1"/>
<line x1="131.26" y1="400.5" x2="131.26" y2="398.0" stroke="#4a4a4a" stroke-width="1.1"/>
<line x1="140.14" y1="400.5" x2="140.14" y2="398.0" stroke="#4a4a4a" stroke-width="1.1"/>
<line x1="149.01" y1="400.5" x2="149.01" y2="398.0" stroke="#4a4a4a" stroke-width="1.1"/>
<line x1="157.89" y1="400.5" x2="157.89" y2="398.0" stroke="#4a4a4a" stroke-width="1.1"/>
<line x1="166.76" y1="400.5" x2="166.76" y2="398.0" stroke="#4a4a4a" stroke-width="1.1"/>
<line x1="175.64" y1="400.5" x2="175.64" y2="398.0" stroke="#4a4a4a" stroke-width="1.1"/>
<line x1="184.52" y1="400.5" x2="184.52" y2="398.0" stroke="#4a4a4a" stroke-width="1.1"/>
<line x1="193.39" y1="400.5" x2="193.39" y2="398.0" stroke="#4a4a4a" stroke-width="1.1"/>
<line x1="202.27" y1="400.5" x2="202.27" y2="398.0" stroke="#4a4a4a" stroke-width="1.1"/>
<line x1="211.14" y1="400.5" x2="211.14" y2="398.0" stroke="#4a4a4a" stroke-width="1.1"/>
<line x1="220.02" y1="400.5" x2="220.02" y2="398.0" stroke="#4a4a4a" stroke-width="1.1"/>
<line x1="228.90" y1="400.5" x2="228.90" y2="398.0" stroke="#4a4a4a" stroke-width="1.1"/>
<line x1="237.77" y1="400.5" x2="237.77" y2="398.0" stroke="#4a4a4a" stroke-width="1.1"/>
<line x1="246.65" y1="400.5" x2="246.65" y2="398.0" stroke="#4a4a4a" stroke-width="1.1"/>
<line x1="255.52" y1="400.5" x2="255.52" y2="398.0" stroke="#4a4a4a" stroke-width="1.1"/>
<line x1="264.40" y1="400.5" x2="264.40" y2="398.0" stroke="#4a4a4a" stroke-width="1.1"/>
<line x1="42.50" y1="400.5" x2="42.50" y2="396.0" stroke="#4a4a4a" stroke-width="1.1"/>
<line x1="86.88" y1="400.5" x2="86.88" y2="396.0" stroke="#4a4a4a" stroke-width="1.1"/>
<line x1="131.26" y1="400.5" x2="131.26" y2="396.0" stroke="#4a4a4a" stroke-width="1.1"/>
<line x1="175.64" y1="400.5" x2="175.64" y2="396.0" stroke="#4a4a4a" stroke-width="1.1"/>
<line x1="220.02" y1="400.5" x2="220.02" y2="396.0" stroke="#4a4a4a" stroke-width="1.1"/>
<line x1="264.40" y1="400.5" x2="264.40" y2="396.0" stroke="#4a4a4a" stroke-width="1.1"/>
<line x1="42.5" y1="391.40" x2="45.0" y2="391.40" stroke="#4a4a4a" stroke-width="1.1"/>
<line x1="42.5" y1="382.22" x2="45.0" y2="382.22" stroke="#4a4a4a" stroke-width="1.1"/>
<line x1="42.5" y1="373.04" x2="45.0" y2="373.04" stroke="#4a4a4a" stroke-width="1.1"/>
<line x1="42.5" y1="363.86" x2="45.0" y2="363.86" stroke="#4a4a4a" stroke-width="1.1"/>
<line x1="42.5" y1="354.68" x2="45.0" y2="354.68" stroke="#4a4a4a" stroke-width="1.1"/>
<line x1="42.5" y1="345.50" x2="45.0" y2="345.50" stroke="#4a4a4a" stroke-width="1.1"/>
<line x1="42.5" y1="336.32" x2="45.0" y2="336.32" stroke="#4a4a4a" stroke-width="1.1"/>
<line x1="42.5" y1="327.14" x2="45.0" y2="327.14" stroke="#4a4a4a" stroke-width="1.1"/>
<line x1="42.5" y1="317.96" x2="45.0" y2="317.96" stroke="#4a4a4a" stroke-width="1.1"/>
<line x1="42.5" y1="308.78" x2="45.0" y2="308.78" stroke="#4a4a4a" stroke-width="1.1"/>
<line x1="42.5" y1="299.60" x2="45.0" y2="299.60" stroke="#4a4a4a" stroke-width="1.1"/>
<line x1="42.5" y1="290.42" x2="45.0" y2="290.42" stroke="#4a4a4a" stroke-width="1.1"/>
<line x1="42.5" y1="281.24" x2="45.0" y2="281.24" stroke="#4a4a4a" stroke-width="1.1"/>
<line x1="42.5" y1="272.06" x2="45.0" y2="272.06" stroke="#4a4a4a" stroke-width="1.1"/>
<line x1="42.5" y1="262.88" x2="45.0" y2="262.88" stroke="#4a4a4a" stroke-width="1.1"/>
<line x1="42.5" y1="253.70" x2="45.0" y2="253.70" stroke="#4a4a4a" stroke-width="1.1"/>
<line x1="42.5" y1="244.52" x2="45.0" y2="244.52" stroke="#4a4a4a" stroke-width="1.1"/>
<line x1="42.5" y1="391.40" x2="47.0" y2="391.40" stroke="#4a4a4a" stroke-width="1.1"/>
<line x1="42.5" y1="354.68" x2="47.0" y2="354.68" stroke="#4a4a4a" stroke-width="1.1"/>
<line x1="42.5" y1="317.96" x2="47.0" y2="317.96" stroke="#4a4a4a" stroke-width="1.1"/>
<line x1="42.5" y1="281.24" x2="47.0" y2="281.24" stroke="#4a4a4a" stroke-width="1.1"/>
<line x1="42.5" y1="244.52" x2="47.0" y2="244.52" stroke="#4a4a4a" stroke-width="1.1"/>
<text x="42.50" y="415.00" font-size="11.5" text-anchor="middle" fill="#333" stroke="#333" stroke-width="0.2" font-family='"Liberation Serif", serif' >0</text>
<text x="86.88" y="415.00" font-size="11.5" text-anchor="middle" fill="#333" stroke="#333" stroke-width="0.2" font-family='"Liberation Serif", serif' >10</text>
<text x="131.26" y="415.00" font-size="11.5" text-anchor="middle" fill="#333" stroke="#333" stroke-width="0.2" font-family='"Liberation Serif", serif' >20</text>
<text x="175.64" y="415.00" font-size="11.5" text-anchor="middle" fill="#333" stroke="#333" stroke-width="0.2" font-family='"Liberation Serif", serif' >30</text>
<text x="220.02" y="415.00" font-size="11.5" text-anchor="middle" fill="#333" stroke="#333" stroke-width="0.2" font-family='"Liberation Serif", serif' >40</text>
<text x="264.40" y="415.00" font-size="11.5" text-anchor="middle" fill="#333" stroke="#333" stroke-width="0.2" font-family='"Liberation Serif", serif' >50</text>
<text x="37.00" y="395.40" font-size="11.5" text-anchor="end" fill="#333" stroke="#333" stroke-width="0.2" font-family='"Liberation Serif", serif' >0</text>
<text x="37.00" y="358.68" font-size="11.5" text-anchor="end" fill="#333" stroke="#333" stroke-width="0.2" font-family='"Liberation Serif", serif' >2</text>
<text x="37.00" y="321.96" font-size="11.5" text-anchor="end" fill="#333" stroke="#333" stroke-width="0.2" font-family='"Liberation Serif", serif' >4</text>
<text x="37.00" y="285.24" font-size="11.5" text-anchor="end" fill="#333" stroke="#333" stroke-width="0.2" font-family='"Liberation Serif", serif' >6</text>
<text x="37.00" y="248.52" font-size="11.5" text-anchor="end" fill="#333" stroke="#333" stroke-width="0.2" font-family='"Liberation Serif", serif' >8</text>
<text x="154.00" y="431.00" font-size="12.8" text-anchor="middle" fill="#333" stroke="#333" stroke-width="0.2" font-family='"Liberation Serif", serif' >Ture strain (%)</text>
<text transform="translate(15.5,320) rotate(-90)" font-size="12.8" text-anchor="middle" fill="#333" stroke="#333" stroke-width="0.2" font-family='"Liberation Serif", serif'>Strain-hardening rate (GPa)</text>
<text x="7.50" y="229.00" font-size="16" text-anchor="start" fill="#111" stroke="#111" stroke-width="0.2" font-family='"Liberation Sans", sans-serif' font-weight="bold">c</text>
<path d="M46.10,236.50 C46.15,247.08 46.12,283.58 46.40,300.00 C46.68,316.42 47.43,326.33 47.80,335.00 C48.17,343.67 48.28,348.12 48.60,352.00 C48.92,355.88 49.25,357.63 49.70,358.30 C50.15,358.97 50.82,356.90 51.30,356.00 C51.78,355.10 51.73,354.70 52.60,352.90 C53.47,351.10 55.27,346.85 56.50,345.20 C57.73,343.55 58.68,343.45 60.00,343.00 C61.32,342.55 60.77,342.00 64.40,342.50 C68.03,343.00 75.75,345.05 81.80,346.00 C87.85,346.95 94.15,348.37 100.70,348.20 C107.25,348.03 114.55,345.82 121.10,345.00 C127.65,344.18 134.28,343.62 140.00,343.30 C145.72,342.98 149.55,342.70 155.40,343.10 C161.25,343.50 169.92,344.33 175.10,345.70 C180.28,347.07 183.50,349.28 186.50,351.30 C189.50,353.32 190.75,354.70 193.10,357.80 C195.45,360.90 199.35,367.88 200.60,369.90" fill="none" stroke="#f22a2a" stroke-width="1.7" stroke-linejoin="round"/>
<path d="M46.90,236.50 C46.93,247.08 47.03,282.75 47.10,300.00 C47.17,317.25 47.10,328.33 47.30,340.00 C47.50,351.67 47.95,362.00 48.30,370.00 C48.65,378.00 49.02,383.92 49.40,388.00 C49.78,392.08 50.12,394.00 50.60,394.50 C51.08,395.00 51.65,392.77 52.30,391.00 C52.95,389.23 53.32,387.18 54.50,383.90 C55.68,380.62 57.62,374.22 59.40,371.30 C61.18,368.38 62.63,368.18 65.20,366.40 C67.77,364.62 71.27,362.33 74.80,360.60 C78.33,358.87 81.60,357.15 86.40,356.00 C91.20,354.85 96.45,354.43 103.60,353.70 C110.75,352.97 121.75,352.12 129.30,351.60 C136.85,351.08 144.55,350.47 148.90,350.60 C153.25,350.73 153.22,350.92 155.40,352.40 C157.58,353.88 159.92,356.80 162.00,359.50 C164.08,362.20 166.92,367.08 167.90,368.60" fill="none" stroke="#1f2ee6" stroke-width="1.7" stroke-linejoin="round"/>
<path d="M48.70,236.50 C49.08,247.08 50.37,285.08 51.00,300.00 C51.63,314.92 52.08,319.43 52.50,326.00 C52.92,332.57 52.92,335.98 53.50,339.40 C54.08,342.82 54.92,345.00 56.00,346.50 C57.08,348.00 56.92,347.23 60.00,348.40 C63.08,349.57 69.65,351.88 74.50,353.50 C79.35,355.12 83.52,356.90 89.10,358.10 C94.68,359.30 101.93,360.45 108.00,360.70 C114.07,360.95 119.77,360.00 125.50,359.60 C131.23,359.20 135.23,359.15 142.40,358.30 C149.57,357.45 160.87,355.40 168.50,354.50 C176.13,353.60 180.57,352.90 188.20,352.90 C195.83,352.90 207.33,353.85 214.30,354.50 C221.27,355.15 226.17,356.25 230.00,356.80 C233.83,357.35 235.00,357.18 237.30,357.80 C239.60,358.42 242.02,359.63 243.80,360.50 C245.58,361.37 246.75,361.98 248.00,363.00 C249.25,364.02 250.75,366.00 251.30,366.60" fill="none" stroke="#111" stroke-width="1.6" stroke-linejoin="round"/>
<rect x="165.50" y="366.20" width="4.8" height="4.8" fill="#fff" stroke="#1f2ee6" stroke-width="1.3"/>
<circle cx="167.90" cy="368.60" r="0.6" fill="#1f2ee6"/>
<rect x="198.20" y="367.50" width="4.8" height="4.8" fill="#fff" stroke="#f22a2a" stroke-width="1.3"/>
<circle cx="200.60" cy="369.90" r="0.6" fill="#f22a2a"/>
<rect x="248.90" y="364.20" width="4.8" height="4.8" fill="#fff" stroke="#333" stroke-width="1.3"/>
<circle cx="251.30" cy="366.60" r="0.6" fill="#333"/>
<text x="54.50" y="310.80" font-size="12" text-anchor="start" fill="#222" stroke="#222" stroke-width="0.2" font-family='"Liberation Serif", serif' >CG</text>
<text x="87.50" y="343.00" font-size="12" text-anchor="start" fill="#f22a2a" stroke="#f22a2a" stroke-width="0.2" font-family='"Liberation Serif", serif' >GS-2</text>
<text x="62.50" y="382.90" font-size="12" text-anchor="start" fill="#1f2ee6" stroke="#1f2ee6" stroke-width="0.2" font-family='"Liberation Serif", serif' >GS-1</text>
<rect x="139" y="236" width="125.4" height="93.8" fill="#fff" stroke="#4a4a4a" stroke-width="1.5"/>
<line x1="139" y1="323.10" x2="143.5" y2="323.10" stroke="#4a4a4a" stroke-width="1.1"/>
<line x1="139" y1="315.94" x2="141.5" y2="315.94" stroke="#4a4a4a" stroke-width="1.1"/>
<line x1="139" y1="308.78" x2="141.5" y2="308.78" stroke="#4a4a4a" stroke-width="1.1"/>
<line x1="139" y1="301.62" x2="141.5" y2="301.62" stroke="#4a4a4a" stroke-width="1.1"/>
<line x1="139" y1="294.46" x2="141.5" y2="294.46" stroke="#4a4a4a" stroke-width="1.1"/>
<line x1="139" y1="287.30" x2="143.5" y2="287.30" stroke="#4a4a4a" stroke-width="1.1"/>
<line x1="139" y1="280.14" x2="141.5" y2="280.14" stroke="#4a4a4a" stroke-width="1.1"/>
<line x1="139" y1="272.98" x2="141.5" y2="272.98" stroke="#4a4a4a" stroke-width="1.1"/>
<line x1="139" y1="265.82" x2="141.5" y2="265.82" stroke="#4a4a4a" stroke-width="1.1"/>
<line x1="139" y1="258.66" x2="141.5" y2="258.66" stroke="#4a4a4a" stroke-width="1.1"/>
<line x1="139" y1="251.50" x2="143.5" y2="251.50" stroke="#4a4a4a" stroke-width="1.1"/>
<line x1="139" y1="244.34" x2="141.5" y2="244.34" stroke="#4a4a4a" stroke-width="1.1"/>
<line x1="148.80" y1="329.8" x2="148.80" y2="327.3" stroke="#4a4a4a" stroke-width="1.1"/>
<line x1="158.60" y1="329.8" x2="158.60" y2="325.8" stroke="#4a4a4a" stroke-width="1.1"/>
<line x1="168.40" y1="329.8" x2="168.40" y2="327.3" stroke="#4a4a4a" stroke-width="1.1"/>
<line x1="178.20" y1="329.8" x2="178.20" y2="325.8" stroke="#4a4a4a" stroke-width="1.1"/>
<line x1="188.00" y1="329.8" x2="188.00" y2="327.3" stroke="#4a4a4a" stroke-width="1.1"/>
<line x1="197.80" y1="329.8" x2="197.80" y2="325.8" stroke="#4a4a4a" stroke-width="1.1"/>
<line x1="207.60" y1="329.8" x2="207.60" y2="327.3" stroke="#4a4a4a" stroke-width="1.1"/>
<line x1="217.40" y1="329.8" x2="217.40" y2="325.8" stroke="#4a4a4a" stroke-width="1.1"/>
<line x1="227.20" y1="329.8" x2="227.20" y2="327.3" stroke="#4a4a4a" stroke-width="1.1"/>
<line x1="237.00" y1="329.8" x2="237.00" y2="325.8" stroke="#4a4a4a" stroke-width="1.1"/>
<line x1="246.80" y1="329.8" x2="246.80" y2="327.3" stroke="#4a4a4a" stroke-width="1.1"/>
<line x1="256.60" y1="329.8" x2="256.60" y2="325.8" stroke="#4a4a4a" stroke-width="1.1"/>
<text x="135.80" y="326.90" font-size="10.5" text-anchor="end" fill="#555" stroke="#555" stroke-width="0.2" font-family='"Liberation Serif", serif' >0</text>
<text x="135.80" y="291.10" font-size="10.5" text-anchor="end" fill="#555" stroke="#555" stroke-width="0.2" font-family='"Liberation Serif", serif' >10</text>
<text x="135.80" y="255.30" font-size="10.5" text-anchor="end" fill="#555" stroke="#555" stroke-width="0.2" font-family='"Liberation Serif", serif' >20</text>
<path d="M151.90,236.80 C152.17,240.00 152.93,249.80 153.50,256.00 C154.07,262.20 154.78,268.67 155.30,274.00 C155.82,279.33 156.07,284.72 156.60,288.00 C157.13,291.28 157.85,293.70 158.50,293.70 C159.15,293.70 159.83,290.12 160.50,288.00 C161.17,285.88 161.05,283.50 162.50,281.00 C163.95,278.50 166.60,274.97 169.20,273.00 C171.80,271.03 175.68,269.75 178.10,269.20 C180.52,268.65 182.02,268.70 183.70,269.70 C185.38,270.70 186.53,272.65 188.20,275.20 C189.87,277.75 191.27,281.45 193.70,285.00 C196.13,288.55 200.00,292.80 202.80,296.50 C205.60,300.20 207.92,304.28 210.50,307.20 C213.08,310.12 216.03,311.90 218.30,314.00 C220.57,316.10 222.43,318.42 224.10,319.80 C225.77,321.18 227.60,321.88 228.30,322.30" fill="none" stroke="#111" stroke-width="1.6" stroke-linejoin="round" stroke-dasharray="3.2 2.2"/>
<path d="M165.90,236.80 C166.00,240.78 166.25,253.73 166.50,260.70 C166.75,267.67 167.07,273.88 167.40,278.60 C167.73,283.32 168.02,286.70 168.50,289.00 C168.98,291.30 168.70,292.65 170.30,292.40 C171.90,292.15 175.32,289.98 178.10,287.50 C180.88,285.02 184.02,279.80 187.00,277.50 C189.98,275.20 193.37,273.92 196.00,273.70 C198.63,273.48 200.38,274.02 202.80,276.20 C205.22,278.38 207.92,283.42 210.50,286.80 C213.08,290.18 215.07,293.27 218.30,296.50 C221.53,299.73 226.35,303.28 229.90,306.20 C233.45,309.12 236.77,311.32 239.60,314.00 C242.43,316.68 245.68,320.92 246.90,322.30" fill="none" stroke="#f22a2a" stroke-width="1.6" stroke-linejoin="round" stroke-dasharray="4 1.6 1.1 1.6"/>
<rect x="226.10" y="320.10" width="4.4" height="4.4" fill="#fff" stroke="#333" stroke-width="1.3"/>
<circle cx="228.30" cy="322.30" r="0.6" fill="#333"/>
<rect x="244.70" y="320.10" width="4.4" height="4.4" fill="#fff" stroke="#f22a2a" stroke-width="1.3"/>
<circle cx="246.90" cy="322.30" r="0.6" fill="#f22a2a"/>
<text x="148.00" y="323.20" font-size="11.5" text-anchor="start" fill="#333" stroke="#333" stroke-width="0.2" font-family='"Liberation Serif", serif' >77 K</text>
<text x="179.00" y="303.10" font-size="11.5" text-anchor="start" fill="#222" stroke="#222" stroke-width="0.2" font-family='"Liberation Serif", serif' >CG</text>
<text x="200.20" y="269.40" font-size="11.5" text-anchor="start" fill="#f22a2a" stroke="#f22a2a" stroke-width="0.2" font-family='"Liberation Serif", serif' >GS-2</text>
<rect x="316.7" y="236.6" width="222.50000000000006" height="165.4" fill="none" stroke="#4a4a4a" stroke-width="1.5"/>
<line x1="316.70" y1="402" x2="316.70" y2="399.5" stroke="#4a4a4a" stroke-width="1.1"/>
<line x1="330.61" y1="402" x2="330.61" y2="399.5" stroke="#4a4a4a" stroke-width="1.1"/>
<line x1="344.51" y1="402" x2="344.51" y2="399.5" stroke="#4a4a4a" stroke-width="1.1"/>
<line x1="358.41" y1="402" x2="358.41" y2="399.5" stroke="#4a4a4a" stroke-width="1.1"/>
<line x1="372.32" y1="402" x2="372.32" y2="399.5" stroke="#4a4a4a" stroke-width="1.1"/>
<line x1="386.23" y1="402" x2="386.23" y2="399.5" stroke="#4a4a4a" stroke-width="1.1"/>
<line x1="400.13" y1="402" x2="400.13" y2="399.5" stroke="#4a4a4a" stroke-width="1.1"/>
<line x1="414.03" y1="402" x2="414.03" y2="399.5" stroke="#4a4a4a" stroke-width="1.1"/>
<line x1="427.94" y1="402" x2="427.94" y2="399.5" stroke="#4a4a4a" stroke-width="1.1"/>
<line x1="441.85" y1="402" x2="441.85" y2="399.5" stroke="#4a4a4a" stroke-width="1.1"/>
<line x1="455.75" y1="402" x2="455.75" y2="399.5" stroke="#4a4a4a" stroke-width="1.1"/>
<line x1="469.65" y1="402" x2="469.65" y2="399.5" stroke="#4a4a4a" stroke-width="1.1"/>
<line x1="483.56" y1="402" x2="483.56" y2="399.5" stroke="#4a4a4a" stroke-width="1.1"/>
<line x1="497.47" y1="402" x2="497.47" y2="399.5" stroke="#4a4a4a" stroke-width="1.1"/>
<line x1="511.37" y1="402" x2="511.37" y2="399.5" stroke="#4a4a4a" stroke-width="1.1"/>
<line x1="525.27" y1="402" x2="525.27" y2="399.5" stroke="#4a4a4a" stroke-width="1.1"/>
<line x1="539.18" y1="402" x2="539.18" y2="399.5" stroke="#4a4a4a" stroke-width="1.1"/>
<line x1="316.70" y1="402" x2="316.70" y2="397.5" stroke="#4a4a4a" stroke-width="1.1"/>
<line x1="372.32" y1="402" x2="372.32" y2="397.5" stroke="#4a4a4a" stroke-width="1.1"/>
<line x1="427.94" y1="402" x2="427.94" y2="397.5" stroke="#4a4a4a" stroke-width="1.1"/>
<line x1="483.56" y1="402" x2="483.56" y2="397.5" stroke="#4a4a4a" stroke-width="1.1"/>
<line x1="539.18" y1="402" x2="539.18" y2="397.5" stroke="#4a4a4a" stroke-width="1.1"/>
<line x1="316.7" y1="402.00" x2="319.2" y2="402.00" stroke="#4a4a4a" stroke-width="1.1"/>
<line x1="316.7" y1="390.97" x2="319.2" y2="390.97" stroke="#4a4a4a" stroke-width="1.1"/>
<line x1="316.7" y1="379.94" x2="319.2" y2="379.94" stroke="#4a4a4a" stroke-width="1.1"/>
<line x1="316.7" y1="368.91" x2="319.2" y2="368.91" stroke="#4a4a4a" stroke-width="1.1"/>
<line x1="316.7" y1="357.88" x2="319.2" y2="357.88" stroke="#4a4a4a" stroke-width="1.1"/>
<line x1="316.7" y1="346.85" x2="319.2" y2="346.85" stroke="#4a4a4a" stroke-width="1.1"/>
<line x1="316.7" y1="335.82" x2="319.2" y2="335.82" stroke="#4a4a4a" stroke-width="1.1"/>
<line x1="316.7" y1="324.79" x2="319.2" y2="324.79" stroke="#4a4a4a" stroke-width="1.1"/>
<line x1="316.7" y1="313.76" x2="319.2" y2="313.76" stroke="#4a4a4a" stroke-width="1.1"/>
<line x1="316.7" y1="302.73" x2="319.2" y2="302.73" stroke="#4a4a4a" stroke-width="1.1"/>
<line x1="316.7" y1="291.70" x2="319.2" y2="291.70" stroke="#4a4a4a" stroke-width="1.1"/>
<line x1="316.7" y1="280.67" x2="319.2" y2="280.67" stroke="#4a4a4a" stroke-width="1.1"/>
<line x1="316.7" y1="269.64" x2="319.2" y2="269.64" stroke="#4a4a4a" stroke-width="1.1"/>
<line x1="316.7" y1="258.61" x2="319.2" y2="258.61" stroke="#4a4a4a" stroke-width="1.1"/>
<line x1="316.7" y1="247.58" x2="319.2" y2="247.58" stroke="#4a4a4a" stroke-width="1.1"/>
<line x1="316.7" y1="236.55" x2="319.2" y2="236.55" stroke="#4a4a4a" stroke-width="1.1"/>
<line x1="316.7" y1="402.00" x2="321.2" y2="402.00" stroke="#4a4a4a" stroke-width="1.1"/>
<line x1="316.7" y1="346.85" x2="321.2" y2="346.85" stroke="#4a4a4a" stroke-width="1.1"/>
<line x1="316.7" y1="291.70" x2="321.2" y2="291.70" stroke="#4a4a4a" stroke-width="1.1"/>
<line x1="316.7" y1="236.55" x2="321.2" y2="236.55" stroke="#4a4a4a" stroke-width="1.1"/>
<text x="316.70" y="417.00" font-size="11.5" text-anchor="middle" fill="#333" stroke="#333" stroke-width="0.2" font-family='"Liberation Serif", serif' >0</text>
<text x="372.32" y="417.00" font-size="11.5" text-anchor="middle" fill="#333" stroke="#333" stroke-width="0.2" font-family='"Liberation Serif", serif' >20</text>
<text x="427.94" y="417.00" font-size="11.5" text-anchor="middle" fill="#333" stroke="#333" stroke-width="0.2" font-family='"Liberation Serif", serif' >40</text>
<text x="483.56" y="417.00" font-size="11.5" text-anchor="middle" fill="#333" stroke="#333" stroke-width="0.2" font-family='"Liberation Serif", serif' >60</text>
<text x="539.18" y="417.00" font-size="11.5" text-anchor="middle" fill="#333" stroke="#333" stroke-width="0.2" font-family='"Liberation Serif", serif' >80</text>
<text x="311.00" y="406.00" font-size="11.5" text-anchor="end" fill="#333" stroke="#333" stroke-width="0.2" font-family='"Liberation Serif", serif' >0</text>
<text x="311.00" y="350.85" font-size="11.5" text-anchor="end" fill="#333" stroke="#333" stroke-width="0.2" font-family='"Liberation Serif", serif' >0.5</text>
<text x="311.00" y="295.70" font-size="11.5" text-anchor="end" fill="#333" stroke="#333" stroke-width="0.2" font-family='"Liberation Serif", serif' >1.0</text>
<text x="311.00" y="240.55" font-size="11.5" text-anchor="end" fill="#333" stroke="#333" stroke-width="0.2" font-family='"Liberation Serif", serif' >1.5</text>
<text x="425.40" y="432.00" font-size="13.2" text-anchor="middle" fill="#333" stroke="#333" stroke-width="0.2" font-family='"Liberation Serif", serif' >Uniform elongation (%)</text>
<text transform="translate(287.5,322) rotate(-90)" font-size="13.4" text-anchor="middle" fill="#333" stroke="#333" stroke-width="0.2" font-family='"Liberation Serif", serif'>Yield strength (GPa)</text>
<text x="279.20" y="229.40" font-size="16" text-anchor="start" fill="#111" stroke="#111" stroke-width="0.2" font-family='"Liberation Sans", sans-serif' font-weight="bold">d</text>
<polygon points="316.70,236.55 319.48,241.12 322.26,245.56 325.04,249.88 327.82,254.08 330.61,258.16 333.39,262.14 336.17,266.00 338.95,269.75 341.73,273.40 344.51,276.96 347.29,280.41 350.07,283.77 352.85,287.03 355.63,290.20 358.41,293.29 361.20,296.29 363.98,299.21 366.76,302.05 369.54,304.81 372.32,307.49 375.10,310.10 377.88,312.64 380.66,315.11 383.44,317.51 386.23,319.84 389.01,322.11 391.79,324.31 394.57,326.46 397.35,328.55 400.13,330.57 402.91,332.55 405.69,334.46 408.47,336.33 411.25,338.14 414.03,339.90 416.82,341.62 419.60,343.29 422.38,344.91 425.16,346.48 427.94,348.02 430.72,349.51 433.50,350.96 436.28,352.37 439.06,353.74 441.85,355.07 444.63,356.37 447.41,357.63 450.19,358.85 452.97,360.04 455.75,361.20 458.53,362.33 461.31,363.42 464.09,364.49 466.87,365.52 469.65,366.53 472.44,367.51 475.22,368.46 478.00,369.39 480.78,370.29 483.56,371.16 486.34,372.02 489.12,372.84 491.90,373.65 494.68,374.43 497.47,375.19 500.25,375.93 503.03,376.65 505.81,377.35 508.59,378.03 511.37,378.69 514.15,379.34 516.93,379.96 519.71,380.57 522.49,381.16 525.27,381.74 528.06,382.30 530.84,382.84 533.62,383.37 536.40,383.89 539.18,384.39 539.2,402 316.7,402" fill="#00ffff" stroke="none"/>
<polyline points="316.70,236.55 319.48,241.12 322.26,245.56 325.04,249.88 327.82,254.08 330.61,258.16 333.39,262.14 336.17,266.00 338.95,269.75 341.73,273.40 344.51,276.96 347.29,280.41 350.07,283.77 352.85,287.03 355.63,290.20 358.41,293.29 361.20,296.29 363.98,299.21 366.76,302.05 369.54,304.81 372.32,307.49 375.10,310.10 377.88,312.64 380.66,315.11 383.44,317.51 386.23,319.84 389.01,322.11 391.79,324.31 394.57,326.46 397.35,328.55 400.13,330.57 402.91,332.55 405.69,334.46 408.47,336.33 411.25,338.14 414.03,339.90 416.82,341.62 419.60,343.29 422.38,344.91 425.16,346.48 427.94,348.02 430.72,349.51 433.50,350.96 436.28,352.37 439.06,353.74 441.85,355.07 444.63,356.37 447.41,357.63 450.19,358.85 452.97,360.04 455.75,361.20 458.53,362.33 461.31,363.42 464.09,364.49 466.87,365.52 469.65,366.53 472.44,367.51 475.22,368.46 478.00,369.39 480.78,370.29 483.56,371.16 486.34,372.02 489.12,372.84 491.90,373.65 494.68,374.43 497.47,375.19 500.25,375.93 503.03,376.65 505.81,377.35 508.59,378.03 511.37,378.69 514.15,379.34 516.93,379.96 519.71,380.57 522.49,381.16 525.27,381.74 528.06,382.30 530.84,382.84 533.62,383.37 536.40,383.89 539.18,384.39" fill="none" stroke="#111" stroke-width="1.6" stroke-dasharray="4 1.8 1.2 1.8"/>
<ellipse cx="411.5" cy="300.1" rx="24.5" ry="7" transform="rotate(38.7 411.5 300.1)" fill="#fcdea0"/>
<ellipse cx="398.3" cy="325.2" rx="25.5" ry="5.6" transform="rotate(-68.9 398.3 325.2)" fill="#aaf0c8"/>
<path d="M320.50,273.30 L323.50,267.90 L317.50,267.90 Z" fill="#fff" stroke="#f040f0" stroke-width="1.3"/>
<path d="M321.60,286.60 L324.60,281.20 L318.60,281.20 Z" fill="#fff" stroke="#f040f0" stroke-width="1.3"/>
<path d="M323.90,317.70 L326.90,312.30 L320.90,312.30 Z" fill="#fff" stroke="#f040f0" stroke-width="1.3"/>
<path d="M331.80,263.10 L326.40,260.10 L326.40,266.10 Z" fill="#fff" stroke="#e0409a" stroke-width="1.3"/>
<path d="M335.80,281.50 L330.40,278.50 L330.40,284.50 Z" fill="#fff" stroke="#e0409a" stroke-width="1.3"/>
<path d="M338.30,274.90 L341.70,278.30 L338.30,281.70 L334.90,278.30 Z" fill="#fff" stroke="#25a8a8" stroke-width="1.3"/>
<path d="M360.50,290.60 L355.10,287.60 L355.10,293.60 Z" fill="#fff" stroke="#e0409a" stroke-width="1.3"/>
<path d="M370.40,299.80 L365.00,296.80 L365.00,302.80 Z" fill="#fff" stroke="#e0409a" stroke-width="1.3"/>
<path d="M380.90,312.20 L383.90,317.60 L377.90,317.60 Z" fill="#fff" stroke="#3a3ad8" stroke-width="1.3" stroke-linejoin="miter"/>
<path d="M384.30,310.60 L378.90,307.60 L378.90,313.60 Z" fill="#fff" stroke="#e0409a" stroke-width="1.3"/>
<path d="M391.50,323.70 L394.50,329.10 L388.50,329.10 Z" fill="#fff" stroke="#3a3ad8" stroke-width="1.3" stroke-linejoin="miter"/>
<path d="M392.70,319.70 L387.30,316.70 L387.30,322.70 Z" fill="#fff" stroke="#e0409a" stroke-width="1.3"/>
<path d="M407.40,331.30 L410.40,336.70 L404.40,336.70 Z" fill="#fff" stroke="#3a3ad8" stroke-width="1.3" stroke-linejoin="miter"/>
<path d="M407.60,333.40 L402.20,330.40 L402.20,336.40 Z" fill="#fff" stroke="#e0409a" stroke-width="1.3"/>
<path d="M416.40,338.90 L411.00,335.90 L411.00,341.90 Z" fill="#fff" stroke="#e0409a" stroke-width="1.3"/>
<path d="M414.10,342.70 L419.50,339.70 L419.50,345.70 Z" fill="#fff" stroke="#2a9040" stroke-width="1.3"/>
<path d="M425.70,353.90 L431.10,350.90 L431.10,356.90 Z" fill="#fff" stroke="#2a9040" stroke-width="1.3"/>
<path d="M436.30,361.50 L441.70,358.50 L441.70,364.50 Z" fill="#fff" stroke="#2a9040" stroke-width="1.3"/>
<path d="M446.40,365.20 L451.80,362.20 L451.80,368.20 Z" fill="#fff" stroke="#2a9040" stroke-width="1.3"/>
<path d="M461.60,368.20 L467.00,365.20 L467.00,371.20 Z" fill="#fff" stroke="#2a9040" stroke-width="1.3"/>
<circle cx="447.00" cy="369.70" r="2.80" fill="#fff" stroke="#a04fc0" stroke-width="1.3"/>
<circle cx="460.90" cy="370.00" r="2.80" fill="#fff" stroke="#a04fc0" stroke-width="1.3"/>
<rect x="452.30" y="369.30" width="5.40" height="5.40" fill="#fff" stroke="#f07a4a" stroke-width="1.3"/>
<rect x="461.40" y="374.60" width="5.40" height="5.40" fill="#fff" stroke="#f07a4a" stroke-width="1.3"/>
<rect x="473.20" y="368.80" width="5.40" height="5.40" fill="#fff" stroke="#f07a4a" stroke-width="1.3"/>
<path d="M449.80,379.80 L453.20,383.20 L449.80,386.60 L446.40,383.20 Z" fill="#fff" stroke="#25a8a8" stroke-width="1.3"/>
<path d="M504.80,376.60 L499.40,373.60 L499.40,379.60 Z" fill="#fff" stroke="#e0409a" stroke-width="1.3"/>
<rect x="502.50" y="378.90" width="5.40" height="5.40" fill="#fff" stroke="#f07a4a" stroke-width="1.3"/>
<rect x="516.20" y="375.90" width="5.40" height="5.40" fill="#fff" stroke="#f07a4a" stroke-width="1.3"/>
<rect x="518.20" y="379.80" width="5.40" height="5.40" fill="#fff" stroke="#f07a4a" stroke-width="1.3"/>
<defs><radialGradient id="gr" cx="0.35" cy="0.35" r="0.7"><stop offset="0" stop-color="#fff"/><stop offset="0.35" stop-color="#f22"/><stop offset="1" stop-color="#c00"/></radialGradient><radialGradient id="gk" cx="0.35" cy="0.35" r="0.7"><stop offset="0" stop-color="#ddd"/><stop offset="0.35" stop-color="#222"/><stop offset="1" stop-color="#000"/></radialGradient></defs>
<circle cx="397" cy="288.8" r="3.3" fill="#1010f0"/>
<circle cx="405.5" cy="302.1" r="3.3" fill="url(#gr)"/>
<circle cx="426.1" cy="311.5" r="3.3" fill="#ee1111"/>
<circle cx="391.5" cy="347.6" r="3.3" fill="url(#gk)"/>
<circle cx="491.6" cy="371.1" r="3.1" fill="#000"/>
<text x="324.00" y="380.00" font-size="12" text-anchor="start" fill="#333" stroke="#333" stroke-width="0.2" font-family='"Liberation Serif", serif' ><tspan font-style="italic">green region</tspan>: 77 K</text>
<text x="322.40" y="393.00" font-size="12" text-anchor="start" fill="#333" stroke="#333" stroke-width="0.2" font-family='"Liberation Serif", serif' ><tspan font-style="italic">cyan/yellow</tspan>: 298 K</text>
<text x="439.00" y="250.10" font-size="11.4" text-anchor="start" fill="#333" stroke="#333" stroke-width="0.2" font-family='"Liberation Serif", serif' >Present</text>
<text x="495.00" y="250.10" font-size="11.5" text-anchor="start" fill="#333" stroke="#333" stroke-width="0.2" font-family='"Liberation Serif", serif' >Ref. data</text>
<circle cx="446.2" cy="258.8" r="3" fill="#1010f0"/>
<text x="452.60" y="262.10" font-size="10" text-anchor="start" fill="#1010f0" stroke="#1010f0" stroke-width="0.2" font-family='"Liberation Serif", serif' >:</text>
<text x="459.80" y="262.20" font-size="11" text-anchor="start" fill="#333" stroke="#333" stroke-width="0.2" font-family='"Liberation Serif", serif' >GS-1</text>
<circle cx="434.8" cy="271.3" r="3" fill="url(#gr)"/>
<text x="438.60" y="275.00" font-size="11" text-anchor="start" fill="#e11" stroke="#e11" stroke-width="0.2" font-family='"Liberation Serif", serif' >/</text>
<circle cx="446.9" cy="271.3" r="3" fill="#ee1111"/>
<text x="452.60" y="274.40" font-size="10" text-anchor="start" fill="#e11" stroke="#e11" stroke-width="0.2" font-family='"Liberation Serif", serif' >:</text>
<text x="459.80" y="274.50" font-size="11" text-anchor="start" fill="#333" stroke="#333" stroke-width="0.2" font-family='"Liberation Serif", serif' >GS-2</text>
<circle cx="434.8" cy="283.4" r="3" fill="url(#gk)"/>
<text x="438.60" y="287.00" font-size="11" text-anchor="start" fill="#111" stroke="#111" stroke-width="0.2" font-family='"Liberation Serif", serif' >/</text>
<circle cx="446.9" cy="283.4" r="3" fill="#000"/>
<text x="452.60" y="286.50" font-size="10" text-anchor="start" fill="#111" stroke="#111" stroke-width="0.2" font-family='"Liberation Serif", serif' >:</text>
<text x="459.80" y="286.60" font-size="11" text-anchor="start" fill="#333" stroke="#333" stroke-width="0.2" font-family='"Liberation Serif", serif' >CG</text>
<rect x="502.40" y="256.00" width="5.20" height="5.20" fill="#fff" stroke="#f07a4a" stroke-width="1.35"/>
<text x="517.60" y="262.10" font-size="10" text-anchor="start" fill="#333" stroke="#333" stroke-width="0.2" font-family='"Liberation Serif", serif' >[52]</text>
<circle cx="505.00" cy="269.80" r="2.70" fill="#fff" stroke="#a04fc0" stroke-width="1.35"/>
<text x="517.60" y="273.30" font-size="10" text-anchor="start" fill="#333" stroke="#333" stroke-width="0.2" font-family='"Liberation Serif", serif' >[53]</text>
<path d="M505.00,277.70 L508.30,281.00 L505.00,284.30 L501.70,281.00 Z" fill="#fff" stroke="#25a8a8" stroke-width="1.35"/>
<text x="517.60" y="284.50" font-size="10" text-anchor="start" fill="#333" stroke="#333" stroke-width="0.2" font-family='"Liberation Serif", serif' >[54]</text>
<path d="M505.00,289.30 L507.90,294.52 L502.10,294.52 Z" fill="#fff" stroke="#3a3ad8" stroke-width="1.35" stroke-linejoin="miter"/>
<text x="517.60" y="295.70" font-size="10" text-anchor="start" fill="#333" stroke="#333" stroke-width="0.2" font-family='"Liberation Serif", serif' >[55]</text>
<path d="M505.00,306.30 L507.90,301.08 L502.10,301.08 Z" fill="#fff" stroke="#f040f0" stroke-width="1.35"/>
<text x="517.60" y="306.90" font-size="10" text-anchor="start" fill="#333" stroke="#333" stroke-width="0.2" font-family='"Liberation Serif", serif' >[56]</text>
<path d="M507.90,314.60 L502.68,311.70 L502.68,317.50 Z" fill="#fff" stroke="#e0409a" stroke-width="1.35"/>
<text x="517.60" y="318.10" font-size="10" text-anchor="start" fill="#333" stroke="#333" stroke-width="0.2" font-family='"Liberation Serif", serif' >[57]</text>
<path d="M502.10,325.80 L507.32,322.90 L507.32,328.70 Z" fill="#fff" stroke="#2a9040" stroke-width="1.35"/>
<text x="517.60" y="329.30" font-size="10" text-anchor="start" fill="#333" stroke="#333" stroke-width="0.2" font-family='"Liberation Serif", serif' >[58]</text>
<rect x="316.7" y="236.6" width="222.50000000000006" height="165.4" fill="none" stroke="#4a4a4a" stroke-width="1.5"/>
<line x1="316.70" y1="402" x2="316.70" y2="399.5" stroke="#4a4a4a" stroke-width="1.1"/>
<line x1="330.61" y1="402" x2="330.61" y2="399.5" stroke="#4a4a4a" stroke-width="1.1"/>
<line x1="344.51" y1="402" x2="344.51" y2="399.5" stroke="#4a4a4a" stroke-width="1.1"/>
<line x1="358.41" y1="402" x2="358.41" y2="399.5" stroke="#4a4a4a" stroke-width="1.1"/>
<line x1="372.32" y1="402" x2="372.32" y2="399.5" stroke="#4a4a4a" stroke-width="1.1"/>
<line x1="386.23" y1="402" x2="386.23" y2="399.5" stroke="#4a4a4a" stroke-width="1.1"/>
<line x1="400.13" y1="402" x2="400.13" y2="399.5" stroke="#4a4a4a" stroke-width="1.1"/>
<line x1="414.03" y1="402" x2="414.03" y2="399.5" stroke="#4a4a4a" stroke-width="1.1"/>
<line x1="427.94" y1="402" x2="427.94" y2="399.5" stroke="#4a4a4a" stroke-width="1.1"/>
<line x1="441.85" y1="402" x2="441.85" y2="399.5" stroke="#4a4a4a" stroke-width="1.1"/>
<line x1="455.75" y1="402" x2="455.75" y2="399.5" stroke="#4a4a4a" stroke-width="1.1"/>
<line x1="469.65" y1="402" x2="469.65" y2="399.5" stroke="#4a4a4a" stroke-width="1.1"/>
<line x1="483.56" y1="402" x2="483.56" y2="399.5" stroke="#4a4a4a" stroke-width="1.1"/>
<line x1="497.47" y1="402" x2="497.47" y2="399.5" stroke="#4a4a4a" stroke-width="1.1"/>
<line x1="511.37" y1="402" x2="511.37" y2="399.5" stroke="#4a4a4a" stroke-width="1.1"/>
<line x1="525.27" y1="402" x2="525.27" y2="399.5" stroke="#4a4a4a" stroke-width="1.1"/>
<line x1="539.18" y1="402" x2="539.18" y2="399.5" stroke="#4a4a4a" stroke-width="1.1"/>
<line x1="316.70" y1="402" x2="316.70" y2="397.5" stroke="#4a4a4a" stroke-width="1.1"/>
<line x1="372.32" y1="402" x2="372.32" y2="397.5" stroke="#4a4a4a" stroke-width="1.1"/>
<line x1="427.94" y1="402" x2="427.94" y2="397.5" stroke="#4a4a4a" stroke-width="1.1"/>
<line x1="483.56" y1="402" x2="483.56" y2="397.5" stroke="#4a4a4a" stroke-width="1.1"/>
<line x1="539.18" y1="402" x2="539.18" y2="397.5" stroke="#4a4a4a" stroke-width="1.1"/>
<line x1="316.7" y1="402.00" x2="319.2" y2="402.00" stroke="#4a4a4a" stroke-width="1.1"/>
<line x1="316.7" y1="390.97" x2="319.2" y2="390.97" stroke="#4a4a4a" stroke-width="1.1"/>
<line x1="316.7" y1="379.94" x2="319.2" y2="379.94" stroke="#4a4a4a" stroke-width="1.1"/>
<line x1="316.7" y1="368.91" x2="319.2" y2="368.91" stroke="#4a4a4a" stroke-width="1.1"/>
<line x1="316.7" y1="357.88" x2="319.2" y2="357.88" stroke="#4a4a4a" stroke-width="1.1"/>
<line x1="316.7" y1="346.85" x2="319.2" y2="346.85" stroke="#4a4a4a" stroke-width="1.1"/>
<line x1="316.7" y1="335.82" x2="319.2" y2="335.82" stroke="#4a4a4a" stroke-width="1.1"/>
<line x1="316.7" y1="324.79" x2="319.2" y2="324.79" stroke="#4a4a4a" stroke-width="1.1"/>
<line x1="316.7" y1="313.76" x2="319.2" y2="313.76" stroke="#4a4a4a" stroke-width="1.1"/>
<line x1="316.7" y1="302.73" x2="319.2" y2="302.73" stroke="#4a4a4a" stroke-width="1.1"/>
<line x1="316.7" y1="291.70" x2="319.2" y2="291.70" stroke="#4a4a4a" stroke-width="1.1"/>
<line x1="316.7" y1="280.67" x2="319.2" y2="280.67" stroke="#4a4a4a" stroke-width="1.1"/>
<line x1="316.7" y1="269.64" x2="319.2" y2="269.64" stroke="#4a4a4a" stroke-width="1.1"/>
<line x1="316.7" y1="258.61" x2="319.2" y2="258.61" stroke="#4a4a4a" stroke-width="1.1"/>
<line x1="316.7" y1="247.58" x2="319.2" y2="247.58" stroke="#4a4a4a" stroke-width="1.1"/>
<line x1="316.7" y1="236.55" x2="319.2" y2="236.55" stroke="#4a4a4a" stroke-width="1.1"/>
<line x1="316.7" y1="402.00" x2="321.2" y2="402.00" stroke="#4a4a4a" stroke-width="1.1"/>
<line x1="316.7" y1="346.85" x2="321.2" y2="346.85" stroke="#4a4a4a" stroke-width="1.1"/>
<line x1="316.7" y1="291.70" x2="321.2" y2="291.70" stroke="#4a4a4a" stroke-width="1.1"/>
<line x1="316.7" y1="236.55" x2="321.2" y2="236.55" stroke="#4a4a4a" stroke-width="1.1"/>
</svg>
</body></html>
